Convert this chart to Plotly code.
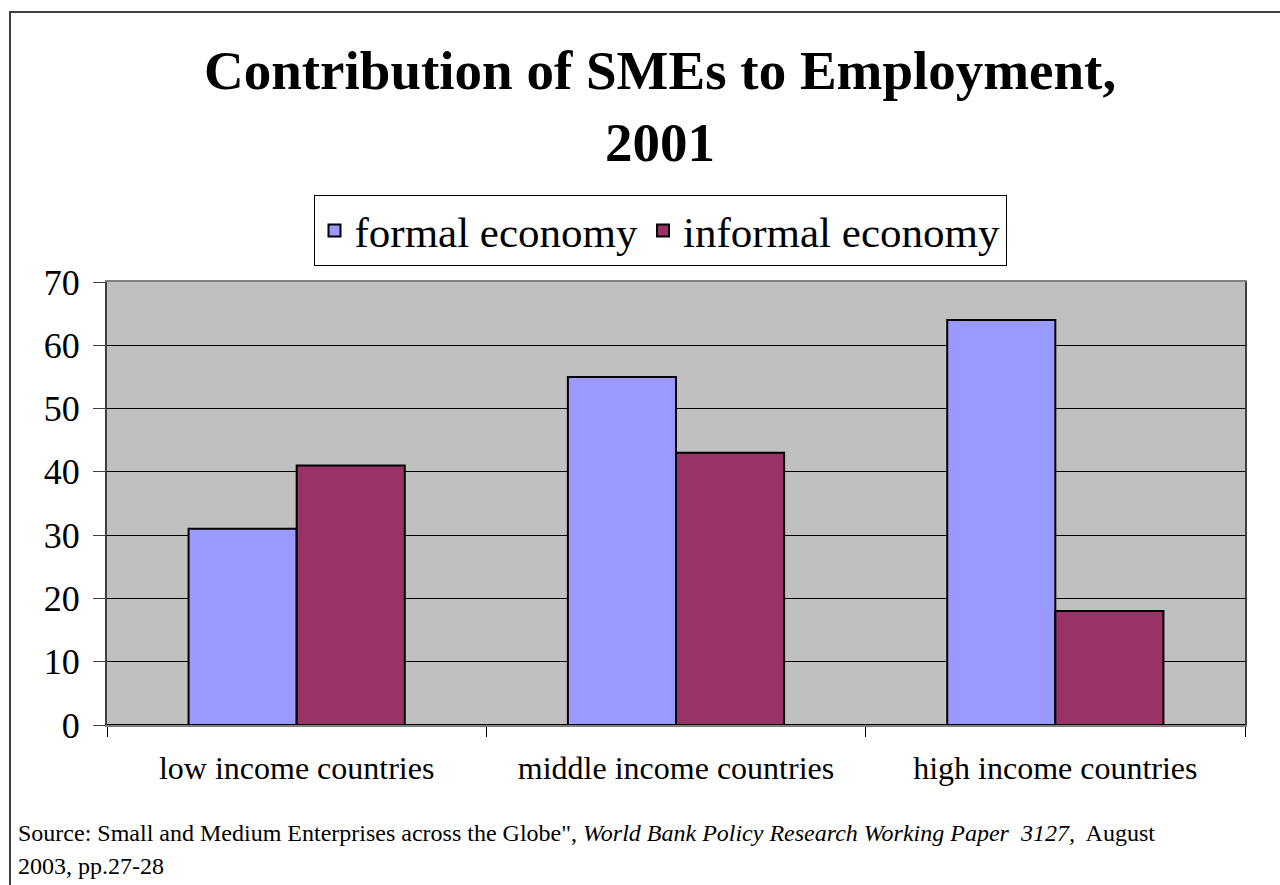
import plotly.graph_objects as go

categories = ["low income countries", "middle income countries", "high income countries"]
formal = [31, 55, 64]
informal = [41, 43, 18]
series_names = ["formal economy", "informal economy"]
y_ticks = [0, 10, 20, 30, 40, 50, 60, 70]

SERIF = "Liberation Serif, Times New Roman, serif"

fig = go.Figure()
fig.add_trace(go.Bar(x=categories, y=formal, name=series_names[0],
                     marker=dict(color="#9999FF", line=dict(color="black", width=2))))
fig.add_trace(go.Bar(x=categories, y=informal, name=series_names[1],
                     marker=dict(color="#993366", line=dict(color="black", width=2))))

PW = 1280 - 107 - 35
PH = 725 - 282

fig.update_layout(
    width=1280, height=885,
    margin=dict(l=107, r=35, t=282, b=160),
    paper_bgcolor="white",
    plot_bgcolor="#C0C0C0",
    barmode="group",
    bargap=0.43,
    bargroupgap=0,
    font=dict(family=SERIF, color="black"),
    showlegend=True,
    legend=dict(
        orientation="h",
        x=0.5 + (660 - 676) / PW, xanchor="center",
        y=1 + (282 - 195) / PH, yanchor="top",
        yref="paper",
        bgcolor="white",
        bordercolor="black", borderwidth=1,
        font=dict(family=SERIF, size=43, color="black"),
        itemsizing="constant",
        tracegroupgap=0,
    ),
    xaxis=dict(
        showgrid=False,
        showline=True, linecolor="#808080", linewidth=2, mirror=True,
        ticks="outside", tickson="boundaries", ticklen=10, tickcolor="black",
        tickfont=dict(family=SERIF, size=32, color="black"),
        ticklabelstandoff=14,
    ),
    yaxis=dict(
        range=[0, 70], tickvals=y_ticks,
        showgrid=True, gridcolor="black", gridwidth=1,
        showline=True, linecolor="#404040", linewidth=2, mirror=True,
        ticks="outside", ticklen=12, tickcolor="#404040",
        tickfont=dict(family=SERIF, size=36, color="black"),
        ticklabelstandoff=6,
        zeroline=True, zerolinecolor="black", zerolinewidth=2,
    ),
    shapes=[
        dict(type="rect", xref="paper", yref="paper",
             x0=-(107 - 10) / PW, x1=1.2, y0=-0.6, y1=1 + (282 - 12) / PH,
             line=dict(color="#404040", width=2), fillcolor="rgba(0,0,0,0)", layer="below"),
    ],
    annotations=[
        dict(text="<b>Contribution of SMEs to Employment,</b>", xref="paper", yref="paper",
             x=0.5, y=1.0, yanchor="middle", xanchor="center",
             xshift=660 - 676, yshift=(725 - 70) - PH, showarrow=False,
             font=dict(family=SERIF, size=55, color="black")),
        dict(text="<b>2001</b>", xref="paper", yref="paper",
             x=0.5, y=1.0, yanchor="middle", xanchor="center",
             xshift=660 - 676, yshift=(725 - 142) - PH, showarrow=False,
             font=dict(family=SERIF, size=55, color="black")),
        dict(text="Source: Small and Medium Enterprises across the Globe\", <i>World Bank Policy Research Working Paper  3127,</i>  August",
             xref="paper", yref="paper", x=0, y=0, xanchor="left", yanchor="middle",
             xshift=16 - 107, yshift=-(833 - 725), showarrow=False,
             font=dict(family=SERIF, size=24, color="black")),
        dict(text="2003, pp.27-28",
             xref="paper", yref="paper", x=0, y=0, xanchor="left", yanchor="middle",
             xshift=16 - 107, yshift=-(866 - 725), showarrow=False,
             font=dict(family=SERIF, size=24, color="black")),
    ],
)

fig.write_html("out.html")
